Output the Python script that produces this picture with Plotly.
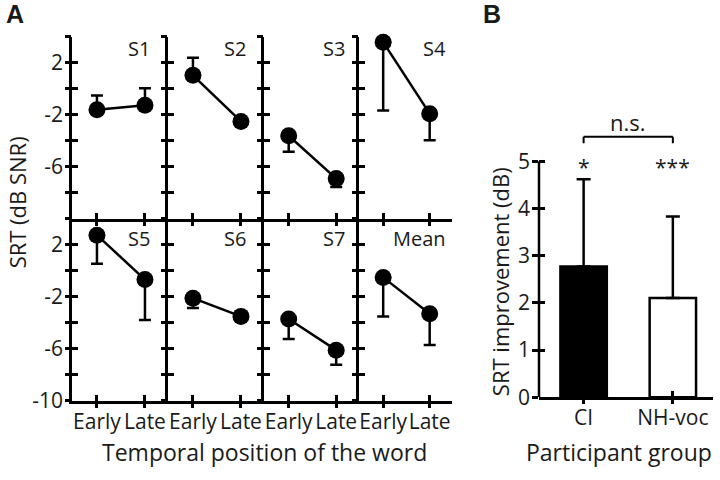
import plotly.graph_objects as go

# ---------------- data ----------------
positions = ["Early", "Late"]
subjects = ["S1", "S2", "S3", "S4", "S5", "S6", "S7", "Mean"]
srt_early = [-1.6, 1.05, -3.6, 3.6, 2.75, -2.1, -3.7, -0.5]
srt_late = [-1.25, -2.5, -6.9, -1.9, -0.67, -3.5, -6.1, -3.3]
err_up_early = [1.1, 1.35, 0, 0, 0, 0, 0, 0]
err_up_late = [1.3, 0, 0, 0, 0, 0, 0, 0]
err_down_early = [0, 0, 1.23, 5.25, 2.2, 0.76, 1.54, 3.0]
err_down_late = [0, 0.4, 0.65, 2.04, 3.1, 0.4, 1.13, 2.4]

y_ticks = [-10, -8, -6, -4, -2, 0, 2, 4]
y_labels_top = ["", "", "-6", "", "-2", "", "2", ""]
y_labels_bottom = ["-10", "", "-6", "", "-2", "", "2", ""]

groups = ["CI", "NH-voc"]
improvement = [2.77, 2.1]
improvement_err = [1.85, 1.73]
b_ticks = [0, 1, 2, 3, 4, 5]
b_labels = ["0", "1", "2", "3", "4", "5"]

# ---------------- layout helpers ----------------
W, H = 720, 480
def px(x):
    return x / W
def py(y):
    return 1 - y / H

FONT = "Open Sans"
BLACK = "#000000"
TXT = "#1a1a1a"
LW = 2.5
TL = 6
TICKFONT = dict(family=FONT, size=21, color=TXT)

col_left = [72, 168, 264, 359]
col_right = [168, 264, 359, 452]
row_px = [(38, 225), (225, 412)]
x_range = [-0.52, 1.48]
y_range = [-10, 4]

fig = go.Figure()
layout = dict(
    width=W, height=H, autosize=False,
    margin=dict(l=0, r=0, t=0, b=0),
    paper_bgcolor="white", plot_bgcolor="rgba(0,0,0,0)",
    showlegend=False,
    font=dict(family=FONT, color=TXT, size=20),
)

def nm(i):
    return "" if i == 1 else str(i)

# base axes carry labels + inside half of the tick; overlay axes draw the outside half
N_OVER = 9
for k, subj in enumerate(subjects):
    r, c = divmod(k, 4)
    i = k + 1
    o = i + N_OVER
    top, bot = row_px[r]
    xd = [px(col_left[c]), px(col_right[c])]
    yd = [py(bot), py(top)]
    fig.add_trace(go.Scatter(
        x=positions, y=[srt_early[k], srt_late[k]],
        xaxis="x" + nm(i), yaxis="y" + nm(i),
        mode="lines+markers",
        line=dict(color=BLACK, width=LW),
        marker=dict(size=17, color=BLACK),
        error_y=dict(type="data", symmetric=False,
                     array=[err_up_early[k], err_up_late[k]],
                     arrayminus=[err_down_early[k], err_down_late[k]],
                     thickness=LW, width=6, color=BLACK),
        cliponaxis=False, hoverinfo="skip",
    ))
    fig.add_trace(go.Scatter(x=[None], y=[None], xaxis="x" + str(o), yaxis="y" + str(o),
                             showlegend=False, hoverinfo="skip"))
    layout["xaxis" + nm(i)] = dict(
        domain=xd, anchor="y" + nm(i), type="category", categoryarray=positions,
        range=x_range, showline=True, linecolor=BLACK, linewidth=LW,
        ticks="inside", ticklen=TL, tickwidth=LW, tickcolor=BLACK,
        tickangle=0,
        showgrid=False, zeroline=False, showticklabels=(r == 1),
        tickfont=TICKFONT, fixedrange=True,
    )
    layout["yaxis" + nm(i)] = dict(
        domain=yd, anchor="x" + nm(i), range=y_range,
        tickmode="array", tickvals=y_ticks,
        ticktext=(y_labels_top if r == 0 else y_labels_bottom),
        showticklabels=(c == 0),
        showline=True, linecolor=BLACK, linewidth=LW,
        ticks="inside", ticklen=TL, tickwidth=LW, tickcolor=BLACK,
        ticklabelstandoff=2,
        showgrid=False, zeroline=False,
        tickfont=TICKFONT, fixedrange=True,
    )
    layout["xaxis" + str(o)] = dict(
        overlaying="x" + nm(i), anchor="y" + str(o), type="linear",
        range=x_range, tickmode="array", tickvals=list(range(len(positions))),
        showticklabels=False, showline=False, showgrid=False, zeroline=False,
        ticks="outside", ticklen=TL, tickwidth=LW, tickcolor=BLACK, fixedrange=True,
    )
    layout["yaxis" + str(o)] = dict(
        overlaying="y" + nm(i), anchor="x" + str(o), range=y_range,
        tickmode="array", tickvals=y_ticks,
        showticklabels=False, showline=False, showgrid=False, zeroline=False,
        ticks="outside", ticklen=TL, tickwidth=LW, tickcolor=BLACK, fixedrange=True,
    )

# ---------------- panel B ----------------
bi = 9
bo = bi + N_OVER
b_zero_px, b_unit_px = 408.3, 48.52
b_range = [0, 5.8]
fig.add_trace(go.Bar(
    x=groups, y=improvement, xaxis="x9", yaxis="y9",
    width=0.52,
    marker=dict(color=["black", "white"], line=dict(color=BLACK, width=LW)),
    error_y=dict(type="data", symmetric=False, array=improvement_err,
                 arrayminus=[0, 0], thickness=LW, width=7, color=BLACK),
    hoverinfo="skip",
))
fig.add_trace(go.Scatter(x=[None], y=[None], xaxis="x" + str(bo), yaxis="y" + str(bo),
                         showlegend=False, hoverinfo="skip"))
b_xrange = [-0.5, 1.45]
layout["xaxis9"] = dict(
    domain=[px(539), px(713)], anchor="y9", type="category", categoryarray=groups,
    range=b_xrange, showline=True, linecolor=BLACK, linewidth=LW,
    ticks="inside", ticklen=TL, tickwidth=LW, tickcolor=BLACK,
    tickangle=0,
    showgrid=False, zeroline=False,
    tickfont=TICKFONT, fixedrange=True,
)
layout["yaxis9"] = dict(
    domain=[py(b_zero_px), py(b_zero_px - b_range[1] * b_unit_px)], anchor="x9",
    range=b_range, tickmode="array", tickvals=b_ticks, ticktext=b_labels,
    showline=False, ticks="inside", ticklen=TL, tickwidth=LW, tickcolor=BLACK,
    ticklabelstandoff=8,
    showgrid=False, zeroline=False,
    tickfont=TICKFONT, fixedrange=True,
)
layout["xaxis" + str(bo)] = dict(
    overlaying="x9", anchor="y" + str(bo), type="linear", range=b_xrange,
    tickmode="array", tickvals=list(range(len(groups))),
    showticklabels=False, showline=False, showgrid=False, zeroline=False,
    ticks="outside", ticklen=TL, tickwidth=LW, tickcolor=BLACK, fixedrange=True,
)
layout["yaxis" + str(bo)] = dict(
    overlaying="y9", anchor="x" + str(bo), range=b_range,
    tickmode="array", tickvals=b_ticks,
    showticklabels=False, showline=False, showgrid=False, zeroline=False,
    ticks="outside", ticklen=TL, tickwidth=LW, tickcolor=BLACK, fixedrange=True,
)

shapes = [
    # y axis line of panel B (only up to the top tick)
    dict(type="line", xref="x9 domain", yref="y9", x0=0, x1=0,
         y0=b_ticks[0], y1=b_ticks[-1], line=dict(color=BLACK, width=LW)),
    # significance bracket
    dict(type="line", xref="x9", yref="y9", x0=groups[0], x1=groups[1], y0=5.52, y1=5.52,
         line=dict(color=BLACK, width=2)),
    dict(type="line", xref="x9", yref="y9", x0=groups[0], x1=groups[0], y0=5.38, y1=5.52,
         line=dict(color=BLACK, width=2)),
    dict(type="line", xref="x9", yref="y9", x0=groups[1], x1=groups[1], y0=5.38, y1=5.52,
         line=dict(color=BLACK, width=2)),
]

ann = []
def text(t, x, y, size=20, xanchor="center", yanchor="middle", angle=0, bold=False, family=FONT):
    ann.append(dict(text=("<b>%s</b>" % t) if bold else t, x=px(x), y=py(y),
                    xref="paper", yref="paper", showarrow=False,
                    xanchor=xanchor, yanchor=yanchor, textangle=angle,
                    font=dict(family=family, size=size, color=TXT)))

label_right = [152, 248, 347, 448]
label_y = [49.5, 245]
for k, subj in enumerate(subjects):
    r, c = divmod(k, 4)
    text(subj, label_right[c], label_y[r], xanchor="right")

text("A", 4, 14, size=25, xanchor="left", bold=True, family="Liberation Sans")
text("B", 481, 14, size=25, xanchor="left", bold=True, family="Liberation Sans")
text("SRT (dB SNR)", 17, 208, size=22, angle=-90)
text("Temporal position of the word", 264, 465, size=23)
text("SRT improvement (dB)", 500, 290, size=22, angle=-90)
text("Participant group", 619, 465, size=23)
text("n.s.", 628, 125, size=22)
text("*", 583.7, 172, size=21)
text("***", 672, 172, size=21)

layout["shapes"] = shapes
layout["annotations"] = ann
fig.update_layout(**layout)
fig.write_html(
    "out.html",
    config={"displayModeBar": False},
    post_script="document.body.style.margin='0';document.body.style.padding='0';"
                "document.documentElement.style.overflow='hidden';",
)
